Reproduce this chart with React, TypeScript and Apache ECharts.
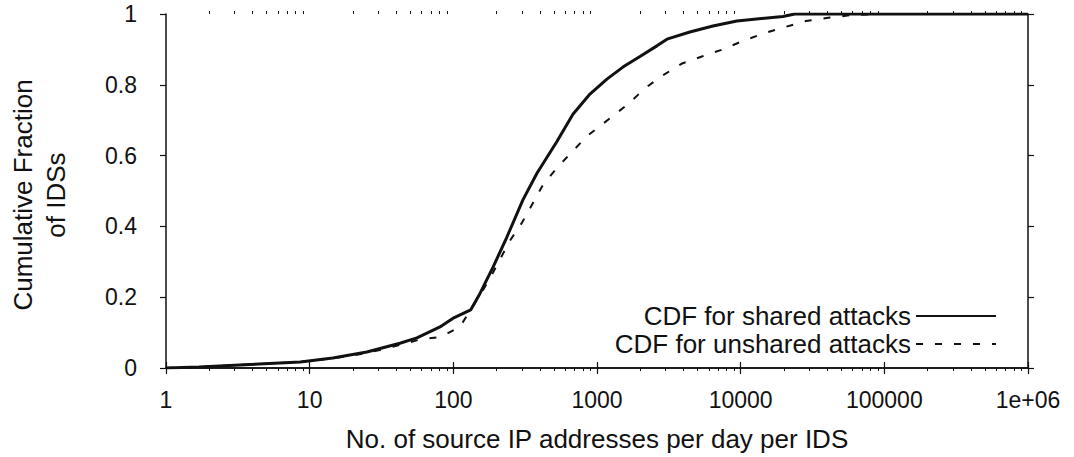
import React, { useEffect, useRef } from "react";
import * as echarts from "echarts";

const sharedX = [1, 1.7, 3.85, 8.6, 14.5, 25, 42.5, 55.8, 80.7, 99, 132, 153, 189, 236, 305, 382, 526, 680, 893, 1172, 1515, 1990, 2612, 3068, 4430, 6410, 9410, 19670, 23800, 1000000];
const sharedY = [0, 0.003, 0.01, 0.017, 0.028, 0.045, 0.07, 0.085, 0.116, 0.14, 0.164, 0.21, 0.285, 0.37, 0.475, 0.55, 0.64, 0.717, 0.774, 0.816, 0.85, 0.88, 0.91, 0.929, 0.949, 0.966, 0.98, 0.993, 1, 1];

const unsharedX = [1, 1.7, 3.85, 8.6, 14.5, 25, 42.5, 58, 82, 111, 161, 189, 248, 300, 358, 420, 526, 668, 851, 1100, 1640, 2155, 2830, 3900, 5370, 7510, 10360, 14720, 20300, 28400, 41800, 59400, 93000, 1000000];
const unsharedY = [0, 0.003, 0.01, 0.017, 0.027, 0.042, 0.065, 0.08, 0.088, 0.116, 0.22, 0.27, 0.36, 0.41, 0.466, 0.517, 0.565, 0.61, 0.655, 0.69, 0.745, 0.79, 0.825, 0.86, 0.88, 0.9, 0.924, 0.946, 0.963, 0.98, 0.99, 0.997, 1, 1];

const minorTicks = [2, 3, 4, 5, 6, 7, 8, 9, 20, 30, 40, 50, 60, 70, 80, 90, 200, 300, 400, 500, 600, 700, 800, 900, 2000, 3000, 4000, 5000, 6000, 7000, 8000, 9000, 20000, 30000, 40000, 50000, 60000, 70000, 80000, 90000, 200000, 300000, 400000, 500000, 600000, 700000, 800000, 900000];

const seriesNames = ["CDF for shared attacks", "CDF for unshared attacks"];
const xTitle = "No. of source IP addresses per day per IDS";
const yTitle = "Cumulative Fraction\nof IDSs";

const FONT = "Liberation Sans, Arial, Helvetica, sans-serif";
const INK = "#111";

export default function App() {
  const ref = useRef<HTMLDivElement>(null);
  useEffect(() => {
    if (!ref.current) return;
    const chart = echarts.init(ref.current, null, { renderer: "svg" });
    const axisLine = { show: true, lineStyle: { color: INK, width: 1.5 } };
    const fmtX = (v: number) => (v >= 1000000 ? "1e+06" : String(Math.round(v)));
    const baseX = {
      type: "log" as const,
      logBase: 10,
      min: 1,
      max: 1000000,
      splitLine: { show: false },
      minorTick: { show: false },
    };
    chart.setOption({
      animation: false,
      backgroundColor: "#fff",
      grid: { left: 166, right: 46, top: 14, bottom: 89, containLabel: false, outerBoundsMode: "none" },
      xAxis: [
        {
          ...baseX,
          position: "bottom",
          axisLine,
          axisTick: { show: true, inside: false, length: 6, lineStyle: { color: INK, width: 1.2 } },
          axisLabel: { show: true, margin: 20, color: INK, fontSize: 23, fontFamily: FONT, formatter: fmtX },
          name: xTitle,
          nameLocation: "middle",
          nameGap: 58,
          nameTextStyle: { color: INK, fontSize: 26, fontFamily: FONT },
        },
        {
          ...baseX,
          position: "top",
          axisLine,
          axisTick: { show: true, inside: false, length: 6, lineStyle: { color: INK, width: 1.2 } },
          axisLabel: { show: false },
        },
        {
          ...baseX,
          position: "bottom",
          axisLine: { show: false },
          axisTick: { show: true, inside: false, length: 3, customValues: minorTicks, lineStyle: { color: INK, width: 1 } },
          axisLabel: { show: false },
        },
        {
          ...baseX,
          position: "top",
          axisLine: { show: false },
          axisTick: { show: true, inside: false, length: 3, customValues: minorTicks, lineStyle: { color: INK, width: 1 } },
          axisLabel: { show: false },
        },
      ],
      yAxis: [
        {
          type: "value",
          min: 0,
          max: 1,
          interval: 0.2,
          position: "left",
          axisLine,
          splitLine: { show: false },
          axisTick: { show: true, inside: false, length: 6, lineStyle: { color: INK, width: 1.2 } },
          axisLabel: { show: true, margin: 29, color: INK, fontSize: 23, fontFamily: FONT },
        },
        {
          type: "value",
          min: 0,
          max: 1,
          interval: 0.2,
          position: "right",
          axisLine,
          splitLine: { show: false },
          axisTick: { show: true, inside: false, length: 6, lineStyle: { color: INK, width: 1.2 } },
          axisLabel: { show: false },
        },
      ],
      legend: {
        show: true,
        orient: "vertical",
        align: "right",
        right: 77,
        top: 303,
        padding: 0,
        itemWidth: 80,
        itemHeight: 14,
        itemGap: 2,
        itemStyle: { opacity: 0 },
        textStyle: { color: INK, fontSize: 26, fontFamily: FONT, lineHeight: 24 },
        data: seriesNames,
      },
      graphic: [
        {
          type: "text",
          x: 39,
          y: 195,
          rotation: Math.PI / 2,
          style: {
            text: yTitle,
            fill: INK,
            fontSize: 26,
            fontFamily: FONT,
            align: "center",
            verticalAlign: "middle",
            lineHeight: 33,
          },
        },
      ],
      series: [
        {
          name: seriesNames[0],
          type: "line",
          xAxisIndex: 0,
          yAxisIndex: 0,
          showSymbol: false,
          symbol: "none",
          lineStyle: { color: INK, width: 3, type: "solid" },
          itemStyle: { color: INK },
          data: sharedX.map((x, i) => [x, sharedY[i]]),
        },
        {
          name: seriesNames[1],
          type: "line",
          xAxisIndex: 0,
          yAxisIndex: 0,
          showSymbol: false,
          symbol: "none",
          lineStyle: { color: INK, width: 2, type: [7, 12] },
          itemStyle: { color: INK },
          data: unsharedX.map((x, i) => [x, unsharedY[i]]),
        },
      ],
    });
    return () => chart.dispose();
  }, []);
  return <div ref={ref} style={{ position: "fixed", left: 0, top: 0, width: 1074, height: 457 }} />;
}
